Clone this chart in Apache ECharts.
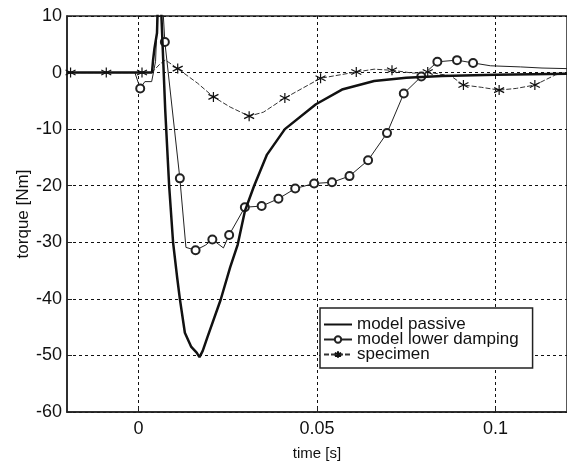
<!DOCTYPE html>
<html><head><meta charset="utf-8">
<script src="https://cdn.jsdelivr.net/npm/echarts@6/dist/echarts.min.js"></script>
<style>html,body{margin:0;padding:0;background:#fff}#c{width:567px;height:467px}</style>
</head><body><div id="c"></div>
<script>
// ---- data ----
const xTicks = [0, 0.05, 0.1];
const yTicks = [10, 0, -10, -20, -30, -40, -50, -60];

const passiveT = [-0.02, 0.0038, 0.0041, 0.0045, 0.0049, 0.0052, 0.0058, 0.0075, 0.0086, 0.0097, 0.0108, 0.0116, 0.013, 0.0148, 0.0163, 0.0171, 0.018, 0.0193, 0.023, 0.0257, 0.0278, 0.0298, 0.0324, 0.036, 0.041, 0.0497, 0.057, 0.066, 0.075, 0.085, 0.1, 0.12];
const passiveV = [0, 0, 2.2, 4.3, 4.5, 7, 20, -6.6, -20, -30, -36, -40, -46, -48.5, -49.5, -50.3, -49.2, -46.8, -40.2, -34.4, -30.4, -24.5, -20, -14.5, -10, -5.6, -3, -1.5, -0.9, -0.6, -0.4, -0.2];

const lowerT = [-0.02, -0.001, 0.0005, 0.0018, 0.0037, 0.0042, 0.0048, 0.0054, 0.0068, 0.0074, 0.0116, 0.0133, 0.016, 0.0188, 0.0207, 0.0238, 0.0254, 0.0298, 0.0345, 0.0392, 0.0439, 0.0492, 0.0542, 0.0591, 0.0643, 0.0696, 0.0743, 0.0792, 0.0837, 0.0892, 0.0937, 0.0986, 0.107, 0.113, 0.12];
const lowerV = [0, 0, -2.8, -1.6, -1.6, 0, 2, 12, 12, 5.4, -18.7, -30.9, -31.4, -30.5, -29.5, -31, -28.7, -23.8, -23.6, -22.3, -20.5, -19.6, -19.4, -18.3, -15.5, -10.7, -3.7, -0.7, 1.9, 2.2, 1.7, 1.2, 1.0, 0.8, 0.7];
const lowerMarks = [2, 9, 10, 12, 14, 16, 17, 18, 19, 20, 21, 22, 23, 24, 25, 26, 27, 28, 29, 30];

const specT = [-0.02, -0.019, -0.009, 0.001, 0.0035, 0.0045, 0.006, 0.0075, 0.0085, 0.011, 0.0166, 0.021, 0.0257, 0.031, 0.035, 0.041, 0.051, 0.061, 0.066, 0.071, 0.077, 0.081, 0.0875, 0.091, 0.096, 0.101, 0.1058, 0.111, 0.1168, 0.12];
const specV = [0, 0, 0, 0, 0, 0.5, 1.5, 2.2, 1.8, 0.7, -1.9, -4.3, -6.1, -7.7, -7.0, -4.5, -1.0, 0.1, 0.6, 0.4, -0.1, 0.1, -0.6, -2.2, -2.6, -3.1, -2.8, -2.2, -0.4, 0];
const specMarks = [1, 2, 3, 9, 11, 13, 15, 16, 17, 19, 21, 23, 25, 27];

const names = ['model passive', 'model lower damping', 'specimen'];

function build(ts, vs, marks) {
  return ts.map((t, i) => marks.indexOf(i) >= 0 ? {value: [t, vs[i]]} : {value: [t, vs[i]], symbol: 'none'});
}

const FONT = 'Liberation Sans, Arial, sans-serif';
const star = 'path://M5,0L5,10M0.67,2.5L9.33,7.5M0.67,7.5L9.33,2.5';

const chart = echarts.init(document.getElementById('c'));
chart.setOption({
  animation: false,
  backgroundColor: '#fff',
  grid: {left: 67, top: 16, width: 507, height: 396, show: true, borderColor: '#222', borderWidth: 1.5, backgroundColor: '#fff'},
  xAxis: {
    type: 'value', min: -0.02, max: 0.12,
    name: 'time [s]', nameLocation: 'middle', nameGap: 34, nameMoveOverlap: false,
    nameTextStyle: {fontSize: 15, color: '#111', fontFamily: FONT},
    axisLine: {show: true, onZero: false, lineStyle: {color: '#222', width: 1.5}},
    axisTick: {show: true, inside: true, length: 5, customValues: xTicks, lineStyle: {color: '#222'}},
    axisLabel: {customValues: xTicks, fontSize: 18, color: '#111', fontFamily: FONT, margin: 8},
    splitLine: {show: true, lineStyle: {type: [3, 3], color: '#111', width: 1}}
  },
  yAxis: {
    type: 'value', min: -60, max: 10, interval: 10,
    name: 'torque [Nm]', nameLocation: 'middle', nameGap: 35, nameMoveOverlap: false,
    nameTextStyle: {fontSize: 17, color: '#111', fontFamily: FONT},
    axisLine: {show: true, onZero: false, lineStyle: {color: '#222', width: 1.5}},
    axisTick: {show: true, inside: true, length: 5, lineStyle: {color: '#222'}},
    axisLabel: {fontSize: 18, color: '#111', fontFamily: FONT, margin: 5},
    splitLine: {show: true, lineStyle: {type: [3, 3], color: '#111', width: 1}}
  },
  legend: {
    data: [
      {name: names[0], itemStyle: {color: 'rgba(0,0,0,0)', borderWidth: 0, opacity: 0}},
      {name: names[1]},
      {name: names[2]}
    ],
    orient: 'vertical', left: 320, top: 308,
    padding: [8, 14, 5, 3], itemGap: -2, itemWidth: 28, itemHeight: 8,
    backgroundColor: '#fff', borderColor: '#222', borderWidth: 1.5, borderRadius: 0,
    textStyle: {fontSize: 17, color: '#111', fontFamily: FONT}
  },
  series: [
    {
      name: names[2], type: 'line', data: build(specT, specV, specMarks),
      symbol: star, symbolSize: 10, showAllSymbol: true, z: 2,
      lineStyle: {color: '#333', width: 1, type: [5, 2]},
      itemStyle: {color: 'rgba(0,0,0,0)', borderColor: '#111', borderWidth: 1.2}
    },
    {
      name: names[1], type: 'line', data: build(lowerT, lowerV, lowerMarks),
      symbol: 'emptyCircle', symbolSize: 8, showAllSymbol: true, z: 3,
      lineStyle: {color: '#222', width: 1},
      itemStyle: {color: '#222', borderColor: '#222', borderWidth: 1}
    },
    {
      name: names[0], type: 'line', data: build(passiveT, passiveV, []),
      symbol: 'none', z: 4,
      lineStyle: {color: '#111', width: 2.5},
      itemStyle: {color: '#111'}
    }
  ]
});
</script></body></html>
